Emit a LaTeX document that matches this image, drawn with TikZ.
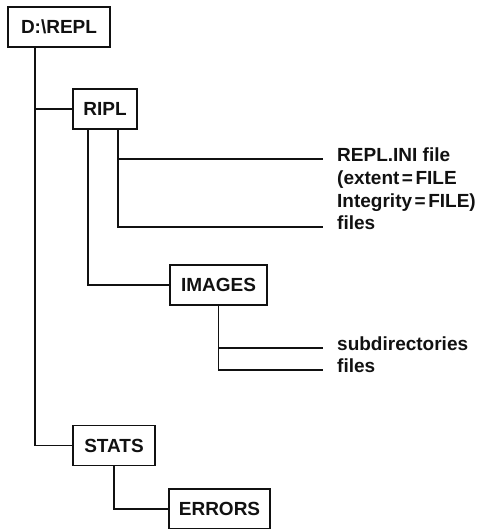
\documentclass[tikz,border=0pt]{standalone}
\usepackage{fontspec}
\setmainfont{Liberation Sans}
\usetikzlibrary{positioning,calc}
\definecolor{treeInk}{HTML}{111111}
\tikzset{
  every node/.style={font=\bfseries\fontsize{19}{22.7}\selectfont, text=treeInk},
  dirbox/.style={
    draw=treeInk,
    line width=1.7pt,
    minimum height=40pt,
    inner sep=0pt
  },
  leaf/.style={
    inner xsep=14pt,
    inner ysep=0pt,
    align=left,
    anchor=mid west
  },
  branch/.style={
    draw=treeInk,
    line width=1.7pt
  }
}
\newcommand{\eqsign}{\hspace{2.5pt}=\hspace{2.5pt}}

\begin{document}
\begin{tikzpicture}[x=1pt,y=-1pt]
  \useasboundingbox (0,0) rectangle (489,529);

  % directories
  \node[dirbox, minimum width=102pt] (repl) at (59,27) {D:\textbackslash REPL};
  \node[dirbox, minimum width=64pt] (ripl) at (105,109) {RIPL};
  \node[dirbox, minimum width=97pt] (images) at (218.5,285) {IMAGES};
  \node[dirbox, minimum width=82pt] (stats) at (114,445.5) {STATS};
  \node[dirbox, minimum width=101pt] (errors) at (219.5,509) {ERRORS};

  % contents (mid of a multi-line node sits on its last line)
  \node[leaf] (ini) at (323,204.4) {REPL.INI file\\(extent\eqsign FILE\\Integrity\eqsign FILE)};
  \node[leaf] (riplfiles) at (323,227) {files};
  \node[leaf] (subdirs) at (323,348) {subdirectories};
  \node[leaf] (imgfiles) at (323,370) {files};

  \coordinate (trunk) at (35,0);
  \coordinate (legA) at (88,0);
  \coordinate (legB) at (118,0);
  \coordinate (inientry) at ($(ini.mid west)+(0,-45.4)$);

  \draw[branch] (repl.south -| trunk) |- (stats.west);
  \draw[branch] (trunk |- ripl.west) -- (ripl.west);
  \draw[branch] (legA |- ripl.south) |- (images.west);
  \draw[branch] (legB |- ripl.south) |- (riplfiles.mid west);
  \draw[branch] (legB |- inientry) -- (inientry);
  \draw[branch] (images.south) |- (imgfiles.mid west);
  \draw[branch] (images.south |- subdirs.mid west) -- (subdirs.mid west);
  \draw[branch] (stats.south) |- (errors.west);
\end{tikzpicture}
\end{document}
